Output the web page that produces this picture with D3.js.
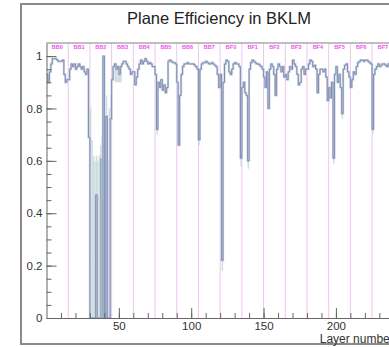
<!DOCTYPE html>
<html>
<head>
<meta charset="utf-8">
<script src="https://cdn.jsdelivr.net/npm/d3@7"></script>
<style>
  body { margin: 0; background: #fff; }
  text { font-family: "Liberation Sans", Arial, sans-serif; }
</style>
</head>
<body>
<div id="chart"></div>
<script>
// sector names, 15 layers each
const sectors = ["BB0", "BB1", "BB2", "BB3", "BB4", "BB5", "BB6", "BB7",
                 "BF0", "BF1", "BF2", "BF3", "BF4", "BF5", "BF6", "BF7"];
const layersPerSector = 15;

// plane efficiency per layer (layer 1..240), one row per sector
const eff = [
  0.93, 0.90, 0.94, 0.97, 0.99, 0.99, 0.99, 0.985, 0.98, 0.98, 0.98, 0.985, 0.93, 0.90, 0.91,
  0.91, 0.95, 0.97, 0.96, 0.97, 0.95, 0.96, 0.97, 0.96, 0.95, 0.96, 0.94, 0.93, 0.95, 0.69,
  0.00, 0.00, 0.00, 0.00, 0.47, 0.00, 0.00, 0.00, 0.00, 1.00, 0.00, 0.77, 0.00, 0.00, 0.76,
  0.91, 0.96, 0.97, 0.95, 0.96, 0.93, 0.96, 0.97, 0.98, 0.98, 0.97, 0.96, 0.95, 0.93, 0.94,
  0.94, 0.89, 0.92, 0.95, 0.97, 0.985, 0.97, 0.98, 0.99, 0.98, 0.97, 0.975, 0.97, 0.96, 0.96,
  0.93, 0.72, 0.90, 0.88, 0.91, 0.87, 0.89, 0.86, 0.88, 0.98, 0.985, 0.98, 0.975, 0.975, 0.97,
  0.90, 0.66, 0.85, 0.93, 0.96, 0.97, 0.97, 0.975, 0.97, 0.97, 0.97, 0.97, 0.965, 0.96, 0.95,
  0.68, 0.95, 0.97, 0.975, 0.975, 0.98, 0.975, 0.97, 0.97, 0.975, 0.97, 0.965, 0.96, 0.93, 0.88,
  0.93, 0.22, 0.90, 0.97, 0.985, 0.98, 0.94, 0.93, 0.95, 0.97, 0.975, 0.97, 0.97, 0.96, 0.61,
  0.88, 0.90, 0.86, 0.85, 0.60, 0.95, 0.975, 0.985, 0.98, 0.975, 0.97, 0.97, 0.965, 0.96, 0.95,
  0.92, 0.88, 0.94, 0.80, 0.95, 0.97, 0.96, 0.93, 0.85, 0.95, 0.97, 0.96, 0.94, 0.96, 0.92,
  0.93, 0.91, 0.94, 0.96, 0.95, 0.985, 0.97, 0.96, 0.93, 0.89, 0.90, 0.95, 0.96, 0.93, 0.95,
  0.95, 0.97, 0.985, 0.98, 0.96, 0.965, 0.95, 0.86, 0.93, 0.95, 0.95, 0.94, 0.95, 0.92, 0.83,
  0.88, 0.84, 0.90, 0.61, 0.93, 0.96, 0.90, 0.93, 0.88, 0.78, 0.95, 0.965, 0.97, 0.94, 0.92,
  0.88, 0.91, 0.94, 0.93, 0.96, 0.975, 0.98, 0.985, 0.985, 0.98, 0.985, 0.985, 0.98, 0.975, 0.97,
  0.72, 0.93, 0.95, 0.96, 0.97, 0.96, 0.965, 0.97, 0.97, 0.965, 0.96, 0.97, 0.96, 0.95, 0.95
];

// wide error ranges [layer, low, high]
const errBand = [
  [30, 0.69, 0.80], [31, 0, 0.80], [32, 0, 0.68], [33, 0, 0.62], [34, 0, 0.60],
  [35, 0.2, 0.62], [36, 0, 0.60], [37, 0, 0.62], [38, 0, 0.66], [39, 0, 0.70],
  [40, 0.45, 1.0], [41, 0, 0.66], [42, 0.3, 0.85], [43, 0, 0.60], [44, 0, 0.80],
  [45, 0.60, 0.85], [48, 0.90, 0.97], [49, 0.90, 0.97], [50, 0.90, 0.96],
  [51, 0.90, 0.96], [52, 0.90, 0.96], [77, 0.70, 0.76], [92, 0.66, 0.84],
  [106, 0.66, 0.72], [122, 0.18, 0.48], [135, 0.58, 0.64], [140, 0.57, 0.63],
  [199, 0.59, 0.64], [205, 0.76, 0.80], [226, 0.70, 0.75]
];
// inner (dense) error ranges
const errCore = [[38, 0, 0.61], [39, 0, 0.61], [40, 0, 0.61], [41, 0, 0.61], [42, 0, 0.61]];

const yMajor = [0, 0.2, 0.4, 0.6, 0.8, 1];
const xMajor = [50, 100, 150, 200];

const W = 389, H = 347;
const margin = { left: 46.5, top: 43, right: 393.8, bottom: 318 };

const svg = d3.select("#chart").append("svg")
  .attr("width", W).attr("height", H);

// canvas frame
svg.append("rect")
  .attr("x", 21).attr("y", 4)
  .attr("width", 420).attr("height", 340)
  .attr("fill", "#fff")
  .attr("stroke", "#8a8a8a")
  .attr("stroke-width", 2);

const nLayers = sectors.length * layersPerSector;
const x = d3.scaleLinear().domain([0, nLayers]).range([margin.left, margin.right]);
const y = d3.scaleLinear().domain([0, 1.05]).range([margin.bottom, margin.top]);

svg.append("text")
  .attr("x", 219).attr("y", 24)
  .attr("text-anchor", "middle")
  .attr("font-size", 16.5)
  .attr("fill", "#222")
  .text("Plane Efficiency in BKLM");

// sector boundaries
svg.append("g").selectAll("line")
  .data(sectors.slice(1))
  .enter().append("line")
  .attr("x1", (d, i) => x((i + 1) * layersPerSector))
  .attr("x2", (d, i) => x((i + 1) * layersPerSector))
  .attr("y1", y(1.05)).attr("y2", y(0))
  .attr("stroke", "#f0c4f0")
  .attr("stroke-width", 1);

svg.append("g").selectAll("text")
  .data(sectors)
  .enter().append("text")
  .attr("x", (d, i) => x((i + 0.5) * layersPerSector))
  .attr("y", 49)
  .attr("text-anchor", "middle")
  .attr("font-size", 5.5)
  .attr("font-weight", "bold")
  .attr("fill", "#f04cf0")
  .text(d => d);

// error boxes
const bins = svg.append("g");
bins.selectAll(".band")
  .data(errBand)
  .enter().append("rect")
  .attr("class", "band")
  .attr("x", d => x(d[0] - 1))
  .attr("width", d => x(d[0]) - x(d[0] - 1))
  .attr("y", d => y(d[2]))
  .attr("height", d => y(d[1]) - y(d[2]))
  .attr("fill", "#cddcdf");

bins.selectAll(".core")
  .data(errCore)
  .enter().append("rect")
  .attr("class", "core")
  .attr("x", d => x(d[0] - 1))
  .attr("width", d => x(d[0]) - x(d[0] - 1))
  .attr("y", d => y(d[2]))
  .attr("height", d => y(d[1]) - y(d[2]))
  .attr("fill", "#93aeb2");

// step line
const pts = eff.map((v, i) => [i, v]);
pts.push([nLayers, eff[eff.length - 1]]);
const line = d3.line()
  .x(d => x(d[0]))
  .y(d => y(d[1]))
  .curve(d3.curveStepAfter);

svg.append("path")
  .datum(pts)
  .attr("d", line)
  .attr("fill", "none")
  .attr("stroke", "#c9d3dc")
  .attr("stroke-width", 2.2);

svg.append("path")
  .datum(pts)
  .attr("d", line)
  .attr("fill", "none")
  .attr("stroke", "#7784b2")
  .attr("stroke-width", 0.9);

// frame top
svg.append("line")
  .attr("x1", margin.left).attr("x2", margin.right + 10)
  .attr("y1", margin.top).attr("y2", margin.top)
  .attr("stroke", "#aaa").attr("stroke-width", 1.5);

// axes
svg.append("g")
  .attr("transform", `translate(${margin.left},0)`)
  .call(d3.axisLeft(y).tickValues(yMajor)
    .tickFormat(d3.format("~g"))
    .tickSizeInner(-10).tickSizeOuter(0).tickPadding(4));
svg.append("g")
  .attr("transform", `translate(${margin.left},0)`)
  .call(d3.axisLeft(y).tickValues(d3.range(0, 1.001, 0.05))
    .tickFormat("").tickSizeInner(-5).tickSizeOuter(0))
  .select(".domain").remove();

svg.append("g")
  .attr("transform", `translate(0,${margin.bottom})`)
  .call(d3.axisBottom(x).tickValues(xMajor)
    .tickSizeInner(-10).tickSizeOuter(0).tickPadding(4));
svg.append("g")
  .attr("transform", `translate(0,${margin.bottom})`)
  .call(d3.axisBottom(x).tickValues(d3.range(10, nLayers, 10))
    .tickFormat("").tickSizeInner(-5).tickSizeOuter(0))
  .select(".domain").remove();

svg.selectAll(".domain, .tick line").attr("stroke", "#666");
svg.selectAll(".tick text")
  .attr("font-size", 11.5)
  .attr("fill", "#333")
  .attr("font-family", "'Liberation Sans', Arial, sans-serif");

svg.append("text")
  .attr("x", margin.right).attr("y", 342.5)
  .attr("text-anchor", "end")
  .attr("font-size", 12)
  .attr("fill", "#333")
  .text("Layer number");
</script>
</body>
</html>
